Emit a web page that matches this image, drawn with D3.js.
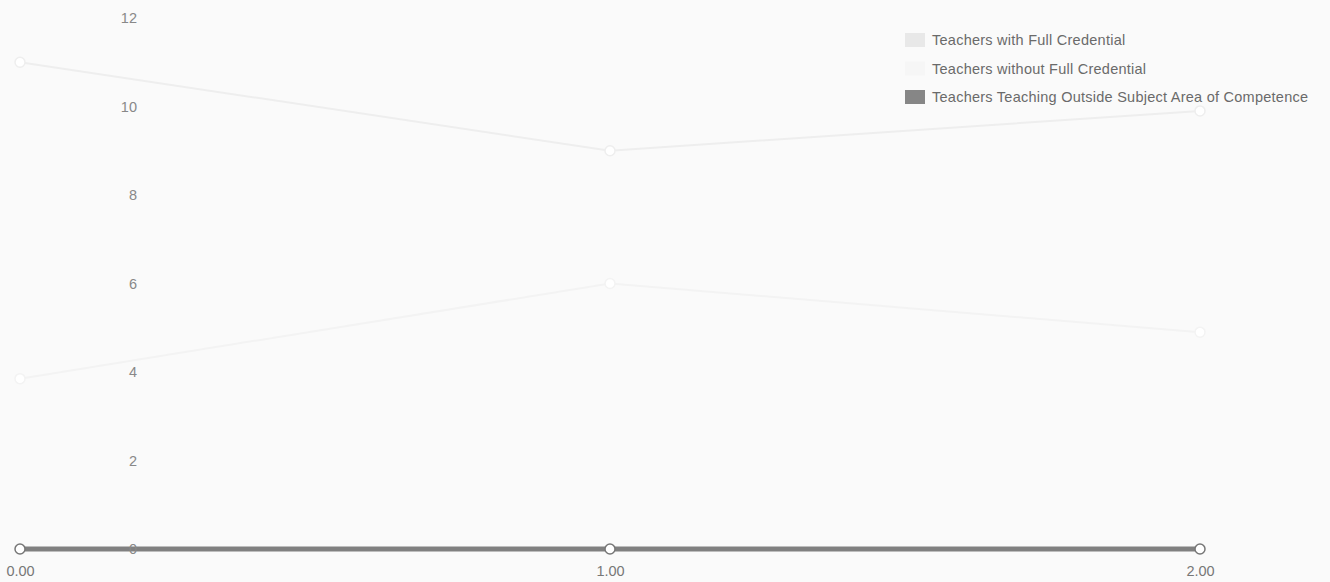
<!DOCTYPE html>
<html>
<head>
<meta charset="utf-8">
<script src="https://cdn.jsdelivr.net/npm/d3@7"></script>
<style>
  body { margin: 0; background: #fafafa; }
  text { font-family: "Liberation Sans", Arial, sans-serif; }
</style>
</head>
<body>
<div id="chart"></div>
<script>
// data
var xValues = [0, 1, 2];
var fullCredential = [11.0, 9.0, 9.9];
var withoutCredential = [3.85, 6.0, 4.9];
var outsideSubject = [0, 0, 0];
var seriesNames = ["Teachers with Full Credential", "Teachers without Full Credential", "Teachers Teaching Outside Subject Area of Competence"];
var yTicks = [0, 2, 4, 6, 8, 10, 12];

var width = 1330, height = 582;

var svg = d3.select("#chart").append("svg")
    .attr("width", width)
    .attr("height", height);

var x = d3.scaleLinear().domain([0, 2]).range([20, 1200]);
var y = d3.scaleLinear().domain([0, 12]).range([549, 18]);

var series = [
  { name: seriesNames[0], values: fullCredential, color: "#eeeeee", fill: "#e8e8e8", width: 2 },
  { name: seriesNames[1], values: withoutCredential, color: "#f3f3f3", fill: "#f6f6f6", width: 2 },
  { name: seriesNames[2], values: outsideSubject, color: "#808080", fill: "#868686", width: 5 }
];

var line = d3.line()
    .x(function(d, i) { return x(xValues[i]); })
    .y(function(d) { return y(d); });

// lines
series.forEach(function(s) {
  svg.append("path")
    .datum(s.values)
    .attr("fill", "none")
    .attr("stroke", s.color)
    .attr("stroke-width", s.width)
    .attr("d", line);
});

// points
series.forEach(function(s, k) {
  svg.selectAll("circle.p" + k)
    .data(s.values)
    .enter().append("circle")
      .attr("class", "p" + k)
      .attr("cx", function(d, i) { return x(xValues[i]); })
      .attr("cy", function(d) { return y(d); })
      .attr("r", 5)
      .attr("fill", "#ffffff")
      .attr("stroke", k == 2 ? "#777" : s.color)
      .attr("stroke-width", 1.5);
});

// x axis
var xAxis = svg.append("g")
    .attr("transform", "translate(0,549)")
    .call(d3.axisBottom(x).tickValues(xValues).tickFormat(d3.format(".2f")).tickSize(0).tickPadding(17));
xAxis.select(".domain").remove();
xAxis.selectAll("text").attr("fill", "#777").style("font-size", "14.5px");

// y axis (sits inside the plot)
var yAxis = svg.append("g")
    .attr("transform", "translate(137,0)")
    .call(d3.axisLeft(y).tickValues(yTicks).tickSize(0).tickPadding(0));
yAxis.select(".domain").remove();
yAxis.selectAll("text").attr("fill", "#888").style("font-size", "14.5px");

// legend
var legend = svg.append("g").attr("transform", "translate(905,40)");
series.forEach(function(s, i) {
  var row = legend.append("g").attr("transform", "translate(0," + (i * 28.5) + ")");
  row.append("rect")
    .attr("x", 0).attr("y", -7)
    .attr("width", 20).attr("height", 14)
    .attr("fill", s.fill);
  row.append("text")
    .attr("x", 27).attr("dy", "0.35em")
    .attr("fill", "#6a6a6a")
    .style("font-size", "14.5px")
    .style("letter-spacing", "0.25px")
    .text(s.name);
});
</script>
</body>
</html>
